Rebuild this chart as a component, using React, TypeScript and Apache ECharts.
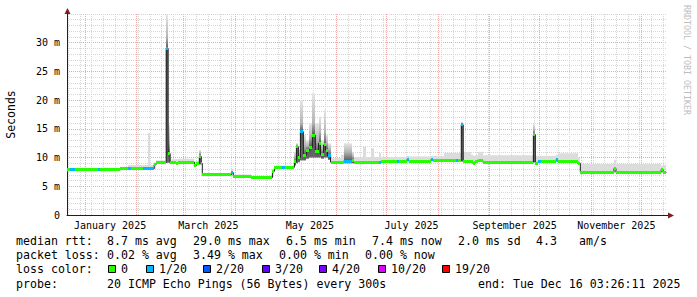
import React, { useEffect, useRef } from 'react';
import * as echarts from 'echarts';

// time axis: days relative to Jan 1 2025 00:00
const START_DAY = -10.857; // Dec 21 2024 03:26
const END_DAY = 349.143; // Dec 16 2025 03:26

const monthStarts = [0, 31, 59, 90, 120, 151, 181, 212, 243, 273, 304, 334];
const labelDays = [15, 74, 135, 196, 258, 319];
const tickLabels = ['January 2025', 'March 2025', 'May 2025', 'July 2025', 'September 2025', 'November 2025'];

// median RTT segments (start day, value in ms, loss bucket), smoke band (low/high/core in ms)
const segStart = [
  -10.857, -9.0, -6.0, 7.8, 9.0, 21.0, 25.9, 27.7, 34.9, 37.9, 39.1,
  41.5, 42.7, 48.7, 49.9, 51.1, 54.7, 55.9, 65.6, 66.8, 68.6, 69.8,
  70.4, 87.8, 89.0, 99.9, 112.5, 113.7, 118.5, 120.3,
  125.7, 126.9, 128.1, 129.3, 131.1, 132.9, 134.7, 136.5, 138.3, 140.2, 141.4, 143.2, 144.4, 145.6, 147.4,
  153.4, 155.2, 160.0, 161.2, 166.6, 168.4, 171.4, 173.2, 176.2, 177.4, 187.1, 188.3, 193.1, 194.3,
  207.5, 208.7, 215.3, 222.5, 223.7,
  225.9, 227.1, 231.6, 232.8, 234.0, 235.8, 238.8,
  269.2, 270.4, 271.9, 273.7, 282.7, 283.9, 295.9, 297.4, 317.6, 318.8, 345.9, 347.1,
];
const segMedian = [
  7.85, 7.85, 7.85, 7.85, 7.85, 8.05, 8.05, 8.05, 8.05, 8.05, 8.05,
  8.8, 9.1, 29.0, 10.7, 9.15, 8.95, 9.2, 8.6, 8.9, 10.2, 9.0,
  6.97, 7.4, 6.75, 6.5, 7.6, 8.3, 8.3, 8.3,
  9.3, 11.9, 10.0, 14.5, 10.4, 11.3, 11.8, 13.9, 11.0, 12.5, 10.5, 12.2, 11.3, 10.3, 9.2,
  9.2, 9.4, 9.5, 9.2, 9.2, 9.2, 9.2, 9.2, 9.2, 9.25, 9.25, 9.25, 9.6, 9.4,
  9.6, 9.5, 9.5, 9.5, 9.5,
  15.7, 9.3, 9.25, 9.0, 9.25, 9.55, 9.2,
  14.0, 9.0, 9.25, 9.25, 9.6, 9.3, 9.0, 7.43, 8.1, 7.43, 7.9, 7.43,
];
const segLoss = [
  0, 1, 0, 1, 0, 0, 1, 0, 1, 1, 1,
  0, 0, 1, 0, 0, 0, 0, 0, 0, 0, 0,
  0, 1, 0, 0, 0, 0, 1, 0,
  0, 0, 0, 1, 0, 0, 0, 0, 0, 0, 0, 0, 0, 1, 0,
  0, 1, 0, 0, 0, 0, 0, 0, 1, 0, 1, 0, 1, 0,
  1, 0, 0, 1, 0,
  1, 0, 0, 0, 0, 0, 0,
  0, 0, 1, 0, 1, 0, 0, 0, 0, 0, 0, 0,
];
const segLow = [
  7.6, 7.6, 7.6, 7.6, 7.6, 7.8, 7.8, 7.8, 7.8, 7.8, 7.8,
  8.0, 8.85, 9.1, 9.1, 8.9, 8.7, 8.95, 8.35, 8.65, 8.8, 8.7,
  6.75, 6.8, 6.55, 6.3, 6.6, 8.05, 8.05, 8.05,
  8.6, 9.0, 9.2, 9.5, 9.5, 9.8, 10.0, 10.0, 10.0, 10.0, 9.8, 10.0, 10.0, 9.6, 8.95,
  8.95, 9.0, 9.0, 8.95, 8.95, 8.95, 8.95, 8.95, 8.95, 9.0, 9.0, 9.0, 9.2, 9.15,
  9.3, 9.25, 9.25, 9.25, 9.25,
  9.3, 9.05, 9.0, 8.75, 9.0, 9.3, 8.95,
  9.2, 8.75, 9.0, 9.0, 9.3, 9.05, 8.75, 7.2, 7.4, 7.2, 7.4, 7.2,
];
const segHigh = [
  8.15, 8.15, 8.15, 8.15, 8.2, 8.4, 8.7, 8.7, 8.7, 14.3, 8.7,
  9.1, 9.5, 35.0, 15.7, 9.7, 9.7, 9.8, 9.3, 9.4, 11.3, 9.5,
  7.3, 8.0, 7.05, 6.8, 8.0, 8.6, 8.6, 8.6,
  11.0, 12.5, 11.5, 20.0, 14.0, 13.0, 16.0, 21.2, 16.0, 17.1, 13.0, 18.3, 14.0, 12.5, 9.9,
  10.5, 12.5, 11.0, 10.1, 11.9, 10.1, 11.6, 10.1, 10.8, 10.1, 10.1, 10.1, 10.3, 10.2,
  10.3, 10.3, 10.8, 10.8, 10.8,
  16.2, 11.0, 10.5, 10.3, 10.4, 11.0, 10.4,
  15.9, 10.3, 10.3, 10.3, 10.5, 10.75, 10.0, 8.9, 9.6, 8.9, 8.6, 8.7,
];
const segCore = [
  0, 0, 0, 0, 0, 0, 0, 0, 0, 0, 0,
  0, 0, 31.0, 12.5, 0, 0, 0, 0, 0, 10.8, 0,
  0, 0, 0, 0, 0, 0, 0, 0,
  10.0, 12.2, 10.5, 16.0, 12.0, 12.0, 13.5, 16.0, 13.0, 14.5, 11.5, 14.5, 12.5, 11.5, 0,
  0, 11.0, 10.2, 0, 0, 0, 0, 0, 0, 0, 0, 0, 0, 0,
  0, 0, 0, 0, 0,
  15.9, 0, 0, 0, 0, 0, 0,
  14.8, 0, 0, 0, 0, 0, 0, 0, 0, 0, 0, 0,
];

const lossLabels = ['0', '1/20', '2/20', '3/20', '4/20', '10/20', '19/20'];
const lossColors = ['#26ff00', '#00b8ff', '#0059ff', '#5e00ff', '#7e00ff', '#dd00ff', '#ff0000'];

const statRtt = ['median rtt:', '8.7 ms avg', '29.0 ms max', '6.5 ms min', '7.4 ms now', '2.0 ms sd', '4.3', 'am/s'];
const statLoss = ['packet loss:', '0.02 % avg', '3.49 % max', '0.00 % min', '0.00 % now'];
const probeLine = ['probe:', '20 ICMP Echo Pings (56 Bytes) every 300s', 'end: Tue Dec 16 03:26:11 2025'];

// layout
const MONO = '"DejaVu Sans Mono", monospace';
const rttX = [16, 107, 193, 286, 372, 458, 536, 579];
const lossX = [16, 107, 193, 279, 365];
const probeX = [16, 107, 478];
const swatchX = [108, 146, 203, 262, 319, 378, 442];
const rowY = [241, 255, 269, 283.5];
const GRID_GRAY = '#d6d6d6';
const GRID_RED = '#efa8a8';

export default function App() {
  const ref = useRef<HTMLDivElement>(null);
  useEffect(() => {
    if (!ref.current) return;
    const chart = echarts.init(ref.current, undefined, { renderer: 'svg' });

    const sundays: number[] = [];
    for (let d = -10; d <= END_DAY; d += 7) sundays.push(d);

    const rows = segStart.map((s, i) => [
      s,
      i + 1 < segStart.length ? segStart[i + 1] : END_DAY,
      segMedian[i],
      segLoss[i],
      segLow[i],
      segHigh[i],
      segCore[i],
    ]);
    const lineData: number[][] = segStart.map((s, i) => [s, segMedian[i]]);
    lineData.push([END_DAY, segMedian[segMedian.length - 1]]);

    const clamp = (v: number) => Math.max(0, Math.min(1, v));

    const smokeRender = (_p: any, api: any) => {
      const x0 = api.value(0), x1 = api.value(1);
      const med = api.value(2), lo = api.value(4), hi = api.value(5), core = api.value(6);
      const pHi = api.coord([x0, hi]);
      const pLo = api.coord([x1, lo]);
      const pMed = api.coord([x0, med]);
      const xa = Math.round(pHi[0]);
      const xb = Math.max(xa + 1, Math.round(pLo[0]));
      const span = pLo[1] - pHi[1];
      let fill: any = '#dcdcdc';
      if (core > 0 && span > 0) {
        const pCore = api.coord([x0, core]);
        const fCore = clamp((pCore[1] - pHi[1]) / span);
        const fMed = clamp((pMed[1] - pHi[1]) / span);
        fill = new echarts.graphic.LinearGradient(0, 0, 0, 1, [
          { offset: 0, color: '#e6e6e6' },
          { offset: fCore, color: '#b4b4b4' },
          { offset: Math.max(fCore, fMed), color: '#585858' },
          { offset: 1, color: '#686868' },
        ]);
      }
      return {
        type: 'rect',
        shape: { x: xa, y: pHi[1], width: xb - xa, height: span },
        style: { fill },
      };
    };

    const medianRender = (_p: any, api: any) => {
      const x0 = api.value(0), x1 = api.value(1), med = api.value(2);
      const a = api.coord([x0, med]);
      const b = api.coord([x1, med]);
      const xa = Math.round(a[0]);
      const xb = Math.max(xa + 1, Math.round(b[0]));
      return {
        type: 'rect',
        shape: { x: xa, y: Math.round(a[1] - 1.5), width: xb - xa, height: 3 },
        style: { fill: lossColors[api.value(3)] },
      };
    };

    const textEl = (text: string, x: number, y: number) => ({
      type: 'text',
      x,
      y,
      style: { text, fill: '#000', fontFamily: MONO, fontSize: 11.6, verticalAlign: 'middle', align: 'left' },
      silent: true,
    });

    const graphic: any[] = [];
    statRtt.forEach((t, i) => graphic.push(textEl(t, rttX[i], rowY[0])));
    statLoss.forEach((t, i) => graphic.push(textEl(t, lossX[i], rowY[1])));
    graphic.push(textEl('loss color:', 16, rowY[2]));
    lossLabels.forEach((t, i) => {
      graphic.push({
        type: 'rect',
        shape: { x: swatchX[i] + 0.5, y: rowY[2] - 3.5, width: 7, height: 7 },
        style: { fill: lossColors[i], stroke: '#000', lineWidth: 1 },
        silent: true,
      });
      graphic.push(textEl(t, swatchX[i] + 13, rowY[2]));
    });
    probeLine.forEach((t, i) => graphic.push(textEl(t, probeX[i], rowY[3])));
    graphic.push({
      type: 'text',
      x: 687,
      y: 60,
      rotation: -Math.PI / 2,
      style: { text: 'RRDTOOL / TOBI OETIKER', fill: '#bdbdbd', fontFamily: MONO, fontSize: 8.3, align: 'center', verticalAlign: 'middle' },
      silent: true,
    });
    // axis extensions and arrows
    graphic.push({ type: 'line', shape: { x1: 666, y1: 215.5, x2: 670, y2: 215.5 }, style: { stroke: '#1f1f1f', lineWidth: 1 }, silent: true });
    graphic.push({ type: 'line', shape: { x1: 67.5, y1: 14, x2: 67.5, y2: 11 }, style: { stroke: '#1f1f1f', lineWidth: 1 }, silent: true });
    graphic.push({ type: 'polygon', shape: { points: [[64.5, 14], [70.5, 14], [67.5, 8]] }, style: { fill: '#801f1f' }, silent: true });
    graphic.push({ type: 'polygon', shape: { points: [[668, 212.5], [668, 218.5], [674, 215.5]] }, style: { fill: '#801f1f' }, silent: true });

    const yColors = [GRID_RED, GRID_RED, GRID_RED, GRID_RED, GRID_RED, GRID_RED, GRID_RED, GRID_GRAY];

    chart.setOption({
      animation: false,
      backgroundColor: '#ffffff',
      grid: { left: 67, right: 30.5, top: 14, bottom: 82, containLabel: false, outerBoundsMode: 'none' },
      xAxis: [
        {
          type: 'value',
          min: START_DAY,
          max: END_DAY,
          position: 'bottom',
          z: 1,
          axisLine: { show: true, onZero: false, lineStyle: { color: '#1f1f1f', width: 1 } },
          axisTick: { show: false, customValues: monthStarts },
          axisLabel: {
            customValues: labelDays,
            formatter: (v: number) => {
              const i = labelDays.findIndex((d) => Math.abs(d - v) < 0.01);
              return i >= 0 ? tickLabels[i] : '';
            },
            margin: 5,
            color: '#000',
            fontFamily: MONO,
            fontSize: 10,
          },
          splitLine: { show: true, lineStyle: { color: GRID_RED, type: [1, 1], width: 1 } },
        },
        {
          type: 'value',
          min: START_DAY,
          max: END_DAY,
          position: 'top',
          z: 0,
          axisLine: { show: false, onZero: false },
          axisTick: { show: false, customValues: sundays },
          axisLabel: { show: false },
          splitLine: { show: true, lineStyle: { color: GRID_GRAY, type: [1, 1], width: 1 } },
        },
      ],
      yAxis: {
        type: 'value',
        min: 0,
        max: 35,
        interval: 5,
        name: 'Seconds',
        nameLocation: 'middle',
        nameGap: 50,
        nameRotate: 90,
        nameTextStyle: { fontFamily: MONO, fontSize: 11.5, color: '#000' },
        axisLine: { show: true, onZero: false, lineStyle: { color: '#1f1f1f', width: 1 } },
        axisTick: { show: false },
        axisLabel: {
          formatter: (v: number) => (v === 0 ? '0' : v >= 35 ? '' : `${v} m`),
          margin: 7,
          color: '#000',
          fontFamily: MONO,
          fontSize: 10,
        },
        splitLine: { show: true, lineStyle: { color: yColors, type: [1, 1], width: 1 } },
        minorTick: { show: false, splitNumber: 5 },
        minorSplitLine: { show: true, lineStyle: { color: GRID_GRAY, type: [1, 1], width: 1 } },
      },
      series: [
        {
          type: 'custom',
          name: 'smoke',
          xAxisIndex: 0,
          yAxisIndex: 0,
          z: 1,
          silent: true,
          renderItem: smokeRender,
          encode: { x: [0, 1], y: [4, 5] },
          data: rows,
        },
        {
          type: 'line',
          name: 'median',
          xAxisIndex: 0,
          yAxisIndex: 0,
          z: 2,
          step: 'end',
          symbol: 'none',
          showSymbol: false,
          silent: true,
          lineStyle: { color: '#202020', width: 1 },
          data: lineData,
        },
        {
          type: 'custom',
          name: 'loss',
          xAxisIndex: 0,
          yAxisIndex: 0,
          z: 3,
          silent: true,
          renderItem: medianRender,
          encode: { x: [0, 1], y: 2 },
          data: rows,
        },
      ],
      graphic,
    });
    return () => chart.dispose();
  }, []);
  return <div ref={ref} style={{ position: 'fixed', left: 0, top: 0, width: 697, height: 297, background: '#fff' }} />;
}
